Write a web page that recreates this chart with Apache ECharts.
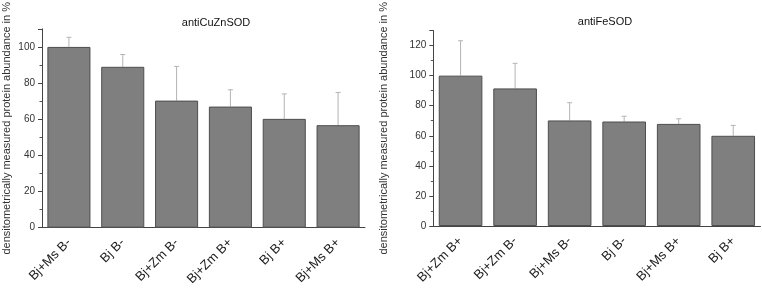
<!DOCTYPE html>
<html>
<head>
<meta charset="utf-8">
<script src="https://cdn.jsdelivr.net/npm/echarts@6/dist/echarts.min.js"></script>
<style>
  html, body { margin: 0; padding: 0; background: #fff; }
  #chart { width: 762px; height: 289px; }
</style>
</head>
<body>
<div id="chart"></div>
<script>
// left panel: antiCuZnSOD
const cuznCats = ["Bj+Ms B-", "Bj B-", "Bj+Zm B-", "Bj+Zm B+", "Bj B+", "Bj+Ms B+"];
const cuznVals = [100, 89, 70.3, 67, 60.2, 56.7];
const cuznErr = [5.3, 6.8, 18.9, 9.3, 13.8, 18.1];

// right panel: antiFeSOD
const feCats = ["Bj+Zm B+", "Bj+Zm B-", "Bj+Ms B-", "Bj B-", "Bj+Ms B+", "Bj B+"];
const feVals = [100, 91.5, 70.2, 69.5, 67.9, 60];
const feErr = [23.2, 16.7, 11.8, 3.5, 3.4, 6.9];

const yName = "densitometrically measured protein abundance in %";
const font = "Liberation Sans, Arial, sans-serif";

const chart = echarts.init(document.getElementById("chart"));

// error bar (upper half only) drawn with a custom series
const errRender = (vals, errs) => (params, api) => {
  const i = api.value(0);
  const base = api.coord([i, vals[i]]);
  const top = api.coord([i, vals[i] + errs[i]]);
  const cap = 2.5;
  return {
    type: "group",
    children: [
      { type: "line", shape: { x1: base[0], y1: base[1], x2: top[0], y2: top[1] },
        style: { stroke: "#b4b4b4", lineWidth: 1 } },
      { type: "line", shape: { x1: top[0] - cap, y1: top[1], x2: top[0] + cap, y2: top[1] },
        style: { stroke: "#b4b4b4", lineWidth: 1 } },
    ],
  };
};

const xAxisMain = (gridIndex, cats) => ({
  type: "category",
  gridIndex: gridIndex,
  data: cats,
  axisLine: { lineStyle: { color: "#444", width: 1 } },
  axisTick: { alignWithLabel: true, length: 4, lineStyle: { color: "#444" } },
  axisLabel: { rotate: 45, fontSize: 13, color: "#222", fontFamily: font, margin: 13, interval: 0 },
});

// boundary ticks between categories
const xAxisMinor = (gridIndex, cats) => ({
  type: "category",
  gridIndex: gridIndex,
  data: cats,
  position: "bottom",
  axisLine: { show: false },
  axisTick: { length: 2, lineStyle: { color: "#666" } },
  axisLabel: { show: false },
});

const yAxis = (gridIndex, max, gap) => ({
  type: "value",
  gridIndex: gridIndex,
  min: 0,
  max: max,
  interval: 20,
  name: yName,
  nameLocation: "middle",
  nameGap: gap,
  nameTextStyle: { fontSize: 11, color: "#333", fontFamily: font },
  axisLine: { show: true, lineStyle: { color: "#444" } },
  axisTick: { show: true, length: 4, lineStyle: { color: "#444" } },
  minorTick: { show: true, splitNumber: 2, length: 2.5, lineStyle: { color: "#555" } },
  splitLine: { show: false },
  axisLabel: { fontSize: 10, color: "#333", fontFamily: font, margin: 7, showMaxLabel: false },
});

const barStyle = { color: "#7f7f7f", borderColor: "#4e4e4e", borderWidth: 1 };

const option = {
  animation: false,
  title: [
    { text: "antiCuZnSOD", left: 211, top: 12, textAlign: "center",
      textStyle: { fontSize: 11, fontWeight: "normal", color: "#111", fontFamily: font } },
    { text: "antiFeSOD", left: 600, top: 11, textAlign: "center",
      textStyle: { fontSize: 11, fontWeight: "normal", color: "#111", fontFamily: font } },
  ],
  grid: [
    { left: 41, right: 397, top: 10.7, bottom: 61.3 },
    { left: 433.3, right: 1.5, top: 7.3, bottom: 63 },
  ],
  xAxis: [xAxisMain(0, cuznCats), xAxisMain(1, feCats), xAxisMinor(0, cuznCats), xAxisMinor(1, feCats)],
  yAxis: [yAxis(0, 110, 30), yAxis(1, 130, 44)],
  series: [
    { type: "custom", xAxisIndex: 0, yAxisIndex: 0, z: 1,
      renderItem: errRender(cuznVals, cuznErr), data: cuznVals.map((v, i) => [i, v]) },
    { type: "bar", xAxisIndex: 0, yAxisIndex: 0, z: 2,
      data: cuznVals, barCategoryGap: "20%", itemStyle: barStyle },
    { type: "custom", xAxisIndex: 1, yAxisIndex: 1, z: 1,
      renderItem: errRender(feVals, feErr), data: feVals.map((v, i) => [i, v]) },
    { type: "bar", xAxisIndex: 1, yAxisIndex: 1, z: 2,
      data: feVals, barCategoryGap: "20%", itemStyle: barStyle },
  ],
};

chart.setOption(option);
</script>
</body>
</html>
